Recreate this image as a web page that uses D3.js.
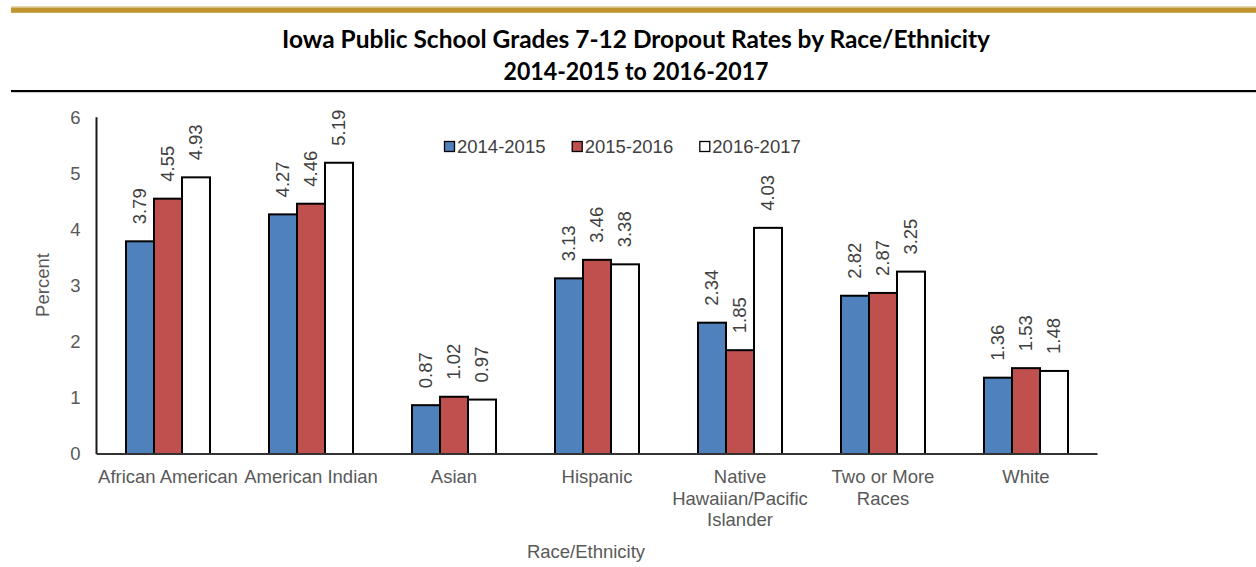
<!DOCTYPE html>
<html>
<head>
<meta charset="utf-8">
<script src="https://cdn.jsdelivr.net/npm/d3@7"></script>
<style>
  body { margin: 0; background: #fff; }
  svg { display: block; }
  text { font-family: "Liberation Sans", Arial, sans-serif; }
</style>
</head>
<body>
<svg id="chart" width="1256" height="567"></svg>
<script>
// ---- data ----
const categories = [
  ["African American"],
  ["American Indian"],
  ["Asian"],
  ["Hispanic"],
  ["Native", "Hawaiian/Pacific", "Islander"],
  ["Two or More", "Races"],
  ["White"]
];
const seriesNames = ["2014-2015", "2015-2016", "2016-2017"];
const values2014 = [3.79, 4.27, 0.87, 3.13, 2.34, 2.82, 1.36];
const values2015 = [4.55, 4.46, 1.02, 3.46, 1.85, 2.87, 1.53];
const values2016 = [4.93, 5.19, 0.97, 3.38, 4.03, 3.25, 1.48];
const yTicks = [0, 1, 2, 3, 4, 5, 6];
const titleLines = ["Iowa Public School Grades 7-12 Dropout Rates by Race/Ethnicity", "2014-2015 to 2016-2017"];
const yTitle = "Percent";
const xTitle = "Race/Ethnicity";

const seriesValues = [values2014, values2015, values2016];
const seriesColors = ["#4F81BD", "#C0504D", "#FFFFFF"];

const svg = d3.select("#chart");

// header rules
svg.append("rect").attr("x", 11).attr("y", 6).attr("width", 1245).attr("height", 1.5).attr("fill", "#E6D7B0");
svg.append("rect").attr("x", 11).attr("y", 7.5).attr("width", 1245).attr("height", 5.3).attr("fill", "#BF9530");
svg.append("rect").attr("x", 11).attr("y", 90).attr("width", 1245).attr("height", 2.2).attr("fill", "#000");

// title
const titleW = [708, 265];
titleLines.forEach((t, i) => {
  svg.append("text")
    .attr("x", 636).attr("y", 48 + i * 31.5)
    .attr("text-anchor", "middle")
    .style("font-family", "Lato, 'Open Sans', sans-serif")
    .style("font-weight", "bold")
    .style("font-size", "24px")
    .attr("textLength", titleW[i])
    .attr("lengthAdjust", "spacingAndGlyphs")
    .attr("fill", "#000")
    .text(t);
});

// scales
const x0 = d3.scaleBand()
  .domain(d3.range(categories.length))
  .range([96.5, 1097.5])
  .padding(0);
const groupW = 84;
const x1 = d3.scaleBand().domain(d3.range(seriesNames.length)).range([0, groupW]).padding(0);
const groupOffset = (x0.bandwidth() - groupW) / 2;
const y = d3.scaleLinear().domain([0, 6]).range([454, 117.3]);

// y tick labels
const yAxis = d3.axisLeft(y).tickValues(yTicks).tickSize(0).tickPadding(16).tickFormat(d3.format("d"));
const yg = svg.append("g").attr("transform", "translate(96.5,0)").call(yAxis);
yg.select(".domain").remove();
yg.selectAll("text")
  .style("font-size", "18.5px")
  .style("font-family", "'Liberation Sans', Arial, sans-serif")
  .attr("fill", "#595959");

// bars
seriesValues.forEach((vals, s) => {
  svg.append("g").selectAll("rect")
    .data(vals)
    .join("rect")
    .attr("x", (d, i) => x0(i) + groupOffset + x1(s))
    .attr("y", d => y(d))
    .attr("width", x1.bandwidth())
    .attr("height", d => y(0) - y(d))
    .attr("fill", seriesColors[s])
    .attr("stroke", "#000")
    .attr("stroke-width", 2);
});

// data labels
seriesValues.forEach((vals, s) => {
  svg.append("g").selectAll("text")
    .data(vals)
    .join("text")
    .attr("transform", (d, i) => {
      const cx = x0(i) + groupOffset + x1(s) + x1.bandwidth() / 2;
      const ty = y(d) - 17;
      return `translate(${cx},${ty}) rotate(-90)`;
    })
    .attr("dy", "0.35em")
    .attr("text-anchor", "start")
    .style("font-size", "18.5px")
    .attr("fill", "#404040")
    .text(d => d.toFixed(2));
});

// axes lines
svg.append("line").attr("x1", 96.5).attr("x2", 96.5).attr("y1", 117.3).attr("y2", 454)
  .attr("stroke", "#1a1a1a").attr("stroke-width", 2);
svg.append("line").attr("x1", 96.5).attr("x2", 1097.5).attr("y1", 454).attr("y2", 454)
  .attr("stroke", "#333").attr("stroke-width", 1.8);

// category labels
const catG = svg.append("g").selectAll("text")
  .data(categories)
  .join("text")
  .attr("x", (d, i) => x0(i) + x0.bandwidth() / 2)
  .attr("y", 483)
  .attr("text-anchor", "middle")
  .style("font-size", "18.5px")
  .attr("fill", "#595959");
catG.each(function(lines) {
  const t = d3.select(this);
  const cx = t.attr("x");
  lines.forEach((ln, j) => {
    t.append("tspan").attr("x", cx).attr("dy", j === 0 ? 0 : 21.7).text(ln);
  });
});

// axis titles
svg.append("text")
  .attr("transform", "translate(49,285) rotate(-90)")
  .attr("text-anchor", "middle")
  .style("font-size", "18.5px")
  .attr("fill", "#595959")
  .text(yTitle);
svg.append("text")
  .attr("x", 586).attr("y", 558)
  .attr("text-anchor", "middle")
  .style("font-size", "18.5px")
  .attr("fill", "#595959")
  .text(xTitle);

// legend
const legendX = [444, 571.7, 699.3];
const lg = svg.append("g").selectAll("g")
  .data(seriesNames)
  .join("g")
  .attr("transform", (d, i) => `translate(${legendX[i]},141)`);
lg.append("rect").attr("x", 0.5).attr("y", 0.5).attr("width", 10).attr("height", 10)
  .attr("fill", (d, i) => seriesColors[i]).attr("stroke", "#000").attr("stroke-width", 1.3);
lg.append("text").attr("x", 13).attr("y", 12)
  .style("font-size", "18.5px")
  .attr("fill", "#404040")
  .text(d => d);
</script>
</body>
</html>
